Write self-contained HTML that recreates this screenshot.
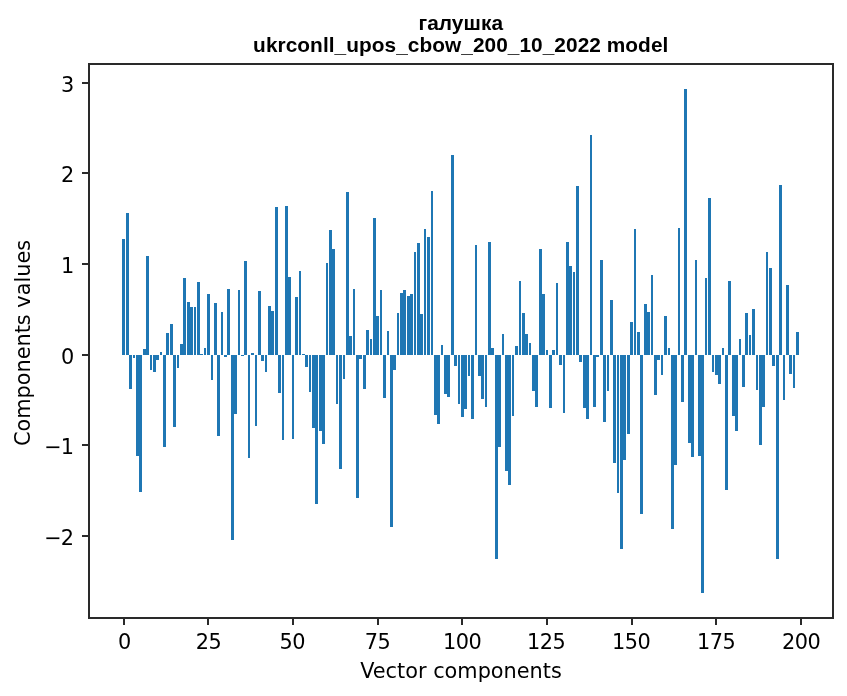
<!DOCTYPE html>
<html lang="uk"><head><meta charset="utf-8"><title>галушка — ukrconll_upos_cbow_200_10_2022 model</title>
<style>
html,body{margin:0;padding:0;background:#fff;}
body{width:847px;height:696px;overflow:hidden;position:relative;}
svg{display:block;position:absolute;left:0;top:0;}
.b{fill:#1f77b4;shape-rendering:crispEdges;}
.k{fill:#2a2a2a;shape-rendering:crispEdges;}
.t{font-family:"DejaVu Sans","Liberation Sans",sans-serif;font-size:20.833px;fill:#000;}
.h{font-family:"Liberation Sans","DejaVu Sans",sans-serif;font-size:20.833px;font-weight:bold;fill:#000;}
</style></head><body>
<svg width="847" height="696" viewBox="0 0 847 696">
<rect x="0" y="0" width="847" height="696" fill="#fff"/>
<g class="b">
<rect x="122" y="239" width="3" height="116"/>
<rect x="126" y="213" width="3" height="142"/>
<rect x="129" y="355" width="3" height="34"/>
<rect x="133" y="355" width="2" height="3"/>
<rect x="136" y="355" width="3" height="101"/>
<rect x="139" y="355" width="3" height="137"/>
<rect x="143" y="349" width="3" height="6"/>
<rect x="146" y="256" width="3" height="99"/>
<rect x="150" y="355" width="2" height="15"/>
<rect x="153" y="355" width="3" height="17"/>
<rect x="156" y="355" width="3" height="5"/>
<rect x="160" y="352" width="2" height="3"/>
<rect x="163" y="355" width="3" height="92"/>
<rect x="166" y="333" width="3" height="22"/>
<rect x="170" y="324" width="3" height="31"/>
<rect x="173" y="355" width="3" height="72"/>
<rect x="177" y="355" width="2" height="13"/>
<rect x="180" y="344" width="3" height="11"/>
<rect x="183" y="278" width="3" height="77"/>
<rect x="187" y="302" width="3" height="53"/>
<rect x="190" y="307" width="3" height="48"/>
<rect x="194" y="307" width="2" height="48"/>
<rect x="197" y="282" width="3" height="73"/>
<rect x="200" y="354" width="3" height="1"/>
<rect x="204" y="348" width="2" height="7"/>
<rect x="207" y="294" width="3" height="61"/>
<rect x="211" y="355" width="2" height="25"/>
<rect x="214" y="303" width="3" height="52"/>
<rect x="217" y="355" width="3" height="81"/>
<rect x="221" y="312" width="2" height="43"/>
<rect x="224" y="355" width="3" height="2"/>
<rect x="227" y="289" width="3" height="66"/>
<rect x="231" y="355" width="3" height="185"/>
<rect x="234" y="355" width="3" height="59"/>
<rect x="238" y="290" width="2" height="65"/>
<rect x="241" y="355" width="3" height="1"/>
<rect x="244" y="261" width="3" height="94"/>
<rect x="248" y="355" width="2" height="103"/>
<rect x="251" y="353" width="3" height="2"/>
<rect x="255" y="355" width="2" height="71"/>
<rect x="258" y="291" width="3" height="64"/>
<rect x="261" y="355" width="3" height="6"/>
<rect x="265" y="355" width="2" height="17"/>
<rect x="268" y="306" width="3" height="49"/>
<rect x="271" y="311" width="3" height="44"/>
<rect x="275" y="207" width="3" height="148"/>
<rect x="278" y="355" width="3" height="38"/>
<rect x="282" y="355" width="2" height="85"/>
<rect x="285" y="206" width="3" height="149"/>
<rect x="288" y="277" width="3" height="78"/>
<rect x="292" y="355" width="2" height="84"/>
<rect x="295" y="297" width="3" height="58"/>
<rect x="299" y="271" width="2" height="84"/>
<rect x="302" y="354" width="3" height="1"/>
<rect x="305" y="355" width="3" height="12"/>
<rect x="309" y="355" width="2" height="37"/>
<rect x="312" y="355" width="3" height="73"/>
<rect x="315" y="355" width="3" height="149"/>
<rect x="319" y="355" width="3" height="76"/>
<rect x="322" y="355" width="3" height="89"/>
<rect x="326" y="263" width="2" height="92"/>
<rect x="329" y="230" width="3" height="125"/>
<rect x="332" y="249" width="3" height="106"/>
<rect x="336" y="355" width="2" height="49"/>
<rect x="339" y="355" width="3" height="114"/>
<rect x="343" y="355" width="2" height="24"/>
<rect x="346" y="192" width="3" height="163"/>
<rect x="349" y="336" width="3" height="19"/>
<rect x="353" y="289" width="2" height="66"/>
<rect x="356" y="355" width="3" height="143"/>
<rect x="359" y="355" width="3" height="4"/>
<rect x="363" y="355" width="3" height="34"/>
<rect x="366" y="330" width="3" height="25"/>
<rect x="370" y="339" width="2" height="16"/>
<rect x="373" y="218" width="3" height="137"/>
<rect x="376" y="316" width="3" height="39"/>
<rect x="380" y="290" width="2" height="65"/>
<rect x="383" y="355" width="3" height="43"/>
<rect x="387" y="331" width="2" height="24"/>
<rect x="390" y="355" width="3" height="172"/>
<rect x="393" y="355" width="3" height="15"/>
<rect x="397" y="313" width="2" height="42"/>
<rect x="400" y="293" width="3" height="62"/>
<rect x="403" y="290" width="3" height="65"/>
<rect x="407" y="296" width="3" height="59"/>
<rect x="410" y="294" width="3" height="61"/>
<rect x="414" y="252" width="2" height="103"/>
<rect x="417" y="243" width="3" height="112"/>
<rect x="420" y="314" width="3" height="41"/>
<rect x="424" y="229" width="2" height="126"/>
<rect x="427" y="237" width="3" height="118"/>
<rect x="431" y="191" width="2" height="164"/>
<rect x="434" y="355" width="3" height="60"/>
<rect x="437" y="355" width="3" height="69"/>
<rect x="441" y="345" width="2" height="10"/>
<rect x="444" y="355" width="3" height="39"/>
<rect x="447" y="355" width="3" height="42"/>
<rect x="451" y="155" width="3" height="200"/>
<rect x="454" y="355" width="3" height="11"/>
<rect x="458" y="355" width="2" height="49"/>
<rect x="461" y="355" width="3" height="62"/>
<rect x="464" y="355" width="3" height="54"/>
<rect x="468" y="355" width="2" height="21"/>
<rect x="471" y="355" width="3" height="64"/>
<rect x="475" y="245" width="2" height="110"/>
<rect x="478" y="355" width="3" height="21"/>
<rect x="481" y="355" width="3" height="44"/>
<rect x="485" y="355" width="2" height="52"/>
<rect x="488" y="242" width="3" height="113"/>
<rect x="491" y="348" width="3" height="7"/>
<rect x="495" y="355" width="3" height="204"/>
<rect x="498" y="355" width="3" height="92"/>
<rect x="502" y="334" width="2" height="21"/>
<rect x="505" y="355" width="3" height="116"/>
<rect x="508" y="355" width="3" height="130"/>
<rect x="512" y="355" width="2" height="61"/>
<rect x="515" y="346" width="3" height="9"/>
<rect x="519" y="281" width="2" height="74"/>
<rect x="522" y="313" width="3" height="42"/>
<rect x="525" y="334" width="3" height="21"/>
<rect x="529" y="343" width="2" height="12"/>
<rect x="532" y="355" width="3" height="36"/>
<rect x="535" y="355" width="3" height="52"/>
<rect x="539" y="249" width="3" height="106"/>
<rect x="542" y="294" width="3" height="61"/>
<rect x="546" y="350" width="2" height="5"/>
<rect x="549" y="355" width="3" height="53"/>
<rect x="552" y="350" width="3" height="5"/>
<rect x="556" y="283" width="2" height="72"/>
<rect x="559" y="355" width="3" height="10"/>
<rect x="563" y="355" width="2" height="58"/>
<rect x="566" y="242" width="3" height="113"/>
<rect x="569" y="266" width="3" height="89"/>
<rect x="573" y="272" width="2" height="83"/>
<rect x="576" y="186" width="3" height="169"/>
<rect x="579" y="355" width="3" height="7"/>
<rect x="583" y="355" width="3" height="53"/>
<rect x="586" y="355" width="3" height="64"/>
<rect x="590" y="135" width="2" height="220"/>
<rect x="593" y="355" width="3" height="52"/>
<rect x="596" y="355" width="3" height="2"/>
<rect x="600" y="260" width="3" height="95"/>
<rect x="603" y="355" width="3" height="67"/>
<rect x="607" y="355" width="2" height="36"/>
<rect x="610" y="300" width="3" height="55"/>
<rect x="613" y="355" width="3" height="108"/>
<rect x="617" y="355" width="2" height="138"/>
<rect x="620" y="355" width="3" height="194"/>
<rect x="623" y="355" width="3" height="105"/>
<rect x="627" y="355" width="3" height="79"/>
<rect x="630" y="322" width="3" height="33"/>
<rect x="634" y="229" width="2" height="126"/>
<rect x="637" y="332" width="3" height="23"/>
<rect x="640" y="355" width="3" height="159"/>
<rect x="644" y="304" width="3" height="51"/>
<rect x="647" y="312" width="3" height="43"/>
<rect x="651" y="275" width="2" height="80"/>
<rect x="654" y="355" width="3" height="40"/>
<rect x="657" y="355" width="3" height="5"/>
<rect x="661" y="355" width="2" height="20"/>
<rect x="664" y="316" width="3" height="39"/>
<rect x="668" y="348" width="2" height="7"/>
<rect x="671" y="355" width="3" height="174"/>
<rect x="674" y="355" width="3" height="110"/>
<rect x="678" y="228" width="2" height="127"/>
<rect x="681" y="355" width="3" height="47"/>
<rect x="684" y="89" width="3" height="266"/>
<rect x="688" y="355" width="3" height="88"/>
<rect x="691" y="355" width="3" height="102"/>
<rect x="695" y="260" width="2" height="95"/>
<rect x="698" y="355" width="3" height="101"/>
<rect x="701" y="355" width="3" height="238"/>
<rect x="705" y="278" width="2" height="77"/>
<rect x="708" y="198" width="3" height="157"/>
<rect x="712" y="355" width="2" height="17"/>
<rect x="715" y="355" width="3" height="20"/>
<rect x="718" y="355" width="3" height="29"/>
<rect x="722" y="348" width="2" height="7"/>
<rect x="725" y="355" width="3" height="135"/>
<rect x="728" y="281" width="3" height="74"/>
<rect x="732" y="355" width="3" height="61"/>
<rect x="735" y="355" width="3" height="76"/>
<rect x="739" y="339" width="2" height="16"/>
<rect x="742" y="355" width="3" height="32"/>
<rect x="745" y="313" width="3" height="42"/>
<rect x="749" y="335" width="2" height="20"/>
<rect x="752" y="309" width="3" height="46"/>
<rect x="756" y="355" width="2" height="35"/>
<rect x="759" y="355" width="3" height="90"/>
<rect x="762" y="355" width="3" height="52"/>
<rect x="766" y="252" width="2" height="103"/>
<rect x="769" y="268" width="3" height="87"/>
<rect x="772" y="355" width="3" height="11"/>
<rect x="776" y="355" width="3" height="204"/>
<rect x="779" y="185" width="3" height="170"/>
<rect x="783" y="355" width="2" height="45"/>
<rect x="786" y="285" width="3" height="70"/>
<rect x="789" y="355" width="3" height="19"/>
<rect x="793" y="355" width="2" height="33"/>
<rect x="796" y="332" width="3" height="23"/>
</g>
<g class="k">
<rect x="88" y="63" width="746" height="2"/>
<rect x="88" y="617" width="746" height="2"/>
<rect x="88" y="63" width="2" height="556"/>
<rect x="832" y="63" width="2" height="556"/>
<rect x="82" y="82" width="6" height="2"/>
<rect x="82" y="172" width="6" height="2"/>
<rect x="82" y="263" width="6" height="2"/>
<rect x="82" y="354" width="6" height="2"/>
<rect x="82" y="444" width="6" height="2"/>
<rect x="82" y="535" width="6" height="2"/>
<rect x="123" y="619" width="2" height="6"/>
<rect x="207" y="619" width="2" height="6"/>
<rect x="292" y="619" width="2" height="6"/>
<rect x="377" y="619" width="2" height="6"/>
<rect x="461" y="619" width="2" height="6"/>
<rect x="546" y="619" width="2" height="6"/>
<rect x="631" y="619" width="2" height="6"/>
<rect x="715" y="619" width="2" height="6"/>
<rect x="800" y="619" width="2" height="6"/>
</g>
<g class="t">
<text x="74.25" y="91.65" text-anchor="end">3</text>
<text x="74.25" y="181.65" text-anchor="end">2</text>
<text x="74.25" y="272.65" text-anchor="end">1</text>
<text x="74.25" y="363.65" text-anchor="end">0</text>
<text y="453.65" text-anchor="end"><tspan x="61.596">−</tspan><tspan x="73.9">1</tspan></text>
<text y="544.65" text-anchor="end"><tspan x="61.596">−</tspan><tspan x="73.9">2</tspan></text>
<text x="124.75" y="648.5" text-anchor="middle" letter-spacing="0.0">0</text>
<text x="208.5" y="648.5" text-anchor="middle" letter-spacing="-0.5">25</text>
<text x="292.25" y="648.5" text-anchor="middle" letter-spacing="-0.5">50</text>
<text x="377.5" y="648.5" text-anchor="middle" letter-spacing="-0.5">75</text>
<text x="462.25" y="648.5" text-anchor="middle" letter-spacing="-0.5">100</text>
<text x="546.25" y="648.5" text-anchor="middle" letter-spacing="-0.5">125</text>
<text x="631.25" y="648.5" text-anchor="middle" letter-spacing="-0.5">150</text>
<text x="716.25" y="648.5" text-anchor="middle" letter-spacing="-0.5">175</text>
<text x="801.25" y="648.5" text-anchor="middle" letter-spacing="-0.5">200</text>
<text x="461.0" y="677.5" text-anchor="middle">Vector components</text>
<text transform="translate(29.5,343.0) rotate(-90)" text-anchor="middle">Components values</text>
</g>
<g class="h">
<text x="460.75" y="29.5" text-anchor="middle" letter-spacing="0.08">галушка</text>
<text x="460.75" y="51.5" text-anchor="middle" letter-spacing="0.055">ukrconll_upos_cbow_200_10_2022 model</text>
</g>
</svg></body></html>
